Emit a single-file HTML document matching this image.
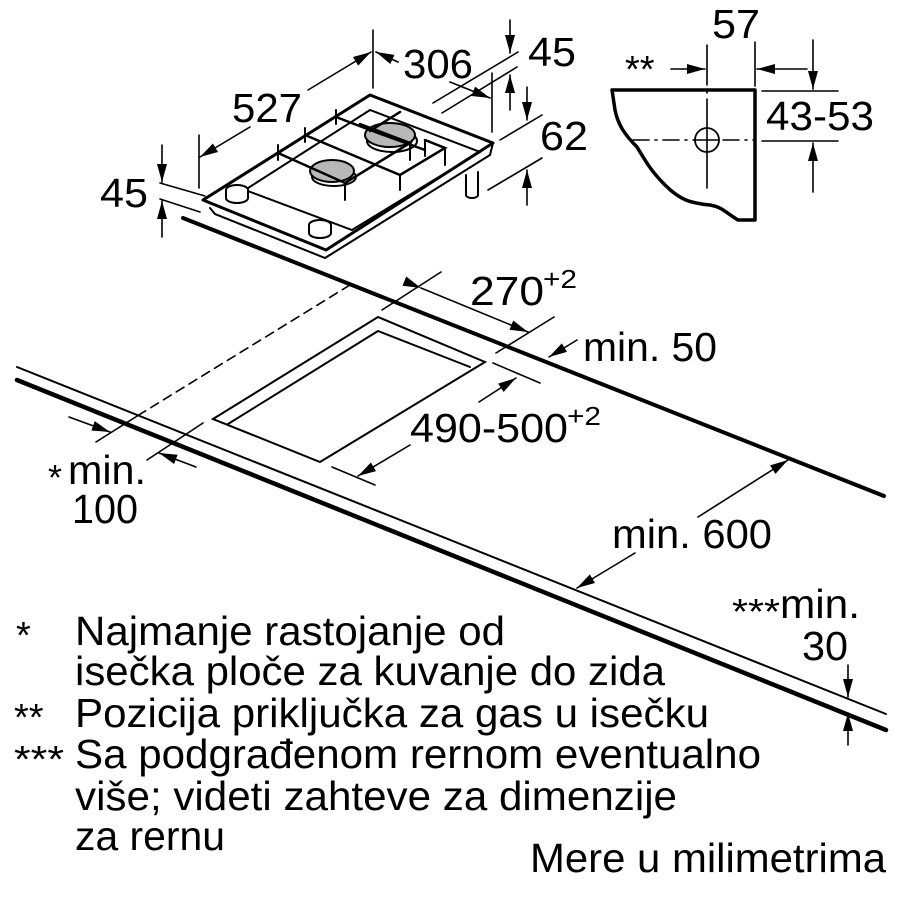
<!DOCTYPE html>
<html><head><meta charset="utf-8"><style>
html,body{margin:0;padding:0;background:#fff}
svg{display:block}
text{font-family:"Liberation Sans",Arial,sans-serif;fill:#000}
</style></head><body>
<svg width="900" height="900" viewBox="0 0 900 900" xmlns="http://www.w3.org/2000/svg">
<defs>
<marker id="a" viewBox="0 0 10 10" refX="10" refY="5" markerWidth="10" markerHeight="10" markerUnits="userSpaceOnUse" orient="auto" style="overflow:visible">
<path d="M-8,0 L10,5 L-8,10 z" fill="#000"/>
</marker>
</defs>
<g stroke="#000" fill="none" stroke-linecap="round">
<line x1="183" y1="218" x2="884" y2="496" stroke-width="4"/>
<line x1="17" y1="367" x2="886" y2="714" stroke-width="2"/>
<line x1="17" y1="380" x2="886" y2="730" stroke-width="4.5"/>
<line x1="350" y1="285" x2="142" y2="413" stroke-width="1.6" stroke-dasharray="9,6"/>
<line x1="142" y1="413" x2="96" y2="442" stroke-width="1.6"/>
<line x1="203" y1="423" x2="147" y2="460" stroke-width="1.6"/>
<path d="M213,419 L378,317 L485,362 L320,462 Z" stroke-width="2"/>
<path d="M228,424 L378,331 L470,367" stroke-width="2"/>
<line x1="441" y1="272" x2="382" y2="310" stroke-width="1.6"/>
<line x1="554" y1="317" x2="496" y2="353" stroke-width="1.6"/>
<line x1="421" y1="288" x2="528" y2="332" stroke-width="1.6" marker-start="url(#a)" marker-end="url(#a)"/>
<line x1="577" y1="340" x2="549" y2="357" stroke-width="1.6" marker-end="url(#a)"/>
<line x1="493" y1="363" x2="540" y2="383" stroke-width="1.6"/>
<line x1="332" y1="467" x2="375" y2="485" stroke-width="1.6"/>
<line x1="479" y1="402" x2="516" y2="378" stroke-width="1.6" marker-end="url(#a)"/>
<line x1="410" y1="445" x2="358" y2="476" stroke-width="1.6" marker-end="url(#a)"/>
<line x1="69" y1="417" x2="110" y2="432" stroke-width="1.6" marker-end="url(#a)"/>
<line x1="196" y1="467" x2="159" y2="453" stroke-width="1.6" marker-end="url(#a)"/>
<line x1="698" y1="517" x2="788" y2="460" stroke-width="1.6" marker-end="url(#a)"/>
<line x1="635" y1="553" x2="577" y2="588" stroke-width="1.6" marker-end="url(#a)"/>
<line x1="848" y1="665" x2="848" y2="697" stroke-width="1.6" marker-end="url(#a)"/>
<line x1="848" y1="745" x2="848" y2="713" stroke-width="1.6" marker-end="url(#a)"/>

<path d="M203,200 L370,95 L493,143 L326,250 Z" stroke-width="3" stroke-linejoin="round" fill="#fff"/>
<path d="M210,208 L215,214 L325,258 L490,155 L493,143" stroke-width="2"/>
<path d="M245,190 L370,110 L480,152 L352,230 Z" stroke-width="2"/>
<ellipse cx="392" cy="141" rx="25" ry="11" stroke-width="2"/>
<ellipse cx="390" cy="135" rx="25" ry="12" fill="#b8b8b8" stroke-width="2"/>
<ellipse cx="334" cy="177" rx="22" ry="9" stroke-width="2"/>
<ellipse cx="332" cy="171" rx="22" ry="11" fill="#b8b8b8" stroke-width="2"/>
<path d="M278,153 L345,183 L410,143 L360,124 M305,135 L400,175 L445,148 L425,140 M336,117 L370,130 L425,150 M400,112 L370,131" stroke-width="2.5"/>
<path d="M278,145 L278,160 M305,128 L305,142 M336,110 L336,124 M345,183 L345,200 M400,175 L400,190 M445,148 L445,165 M425,140 L425,156 M410,143 L410,160" stroke-width="2"/>
<ellipse cx="237" cy="190" rx="11" ry="5" stroke-width="2" fill="#fff"/>
<path d="M226,190 L226,198 A11,5 0 0 0 248,198 L248,190" stroke-width="2" fill="#fff"/>
<ellipse cx="320" cy="225" rx="11" ry="5" stroke-width="2" fill="#fff"/>
<path d="M309,225 L309,233 A11,5 0 0 0 331,233 L331,225" stroke-width="2" fill="#fff"/>
<path d="M466,175 L466,195 A6,3 0 0 0 478,195 L478,172" stroke-width="2" fill="#fff"/>
<line x1="160" y1="183" x2="205" y2="196" stroke-width="1.6"/>
<line x1="160" y1="199" x2="200" y2="212" stroke-width="1.6"/>
<line x1="162" y1="145" x2="162" y2="182" stroke-width="1.6" marker-end="url(#a)"/>
<line x1="162" y1="237" x2="162" y2="201" stroke-width="1.6" marker-end="url(#a)"/>
<line x1="199" y1="135" x2="199" y2="188" stroke-width="1.6"/>
<line x1="373" y1="30" x2="373" y2="88" stroke-width="1.6"/>
<line x1="250" y1="127" x2="200" y2="157" stroke-width="1.6" marker-end="url(#a)"/>
<line x1="308" y1="90" x2="371" y2="52" stroke-width="1.6" marker-end="url(#a)"/>
<line x1="398" y1="62" x2="376" y2="52" stroke-width="1.6" marker-end="url(#a)"/>
<line x1="510" y1="20" x2="510" y2="53" stroke-width="1.6" marker-end="url(#a)"/>
<line x1="433" y1="103" x2="518" y2="52" stroke-width="1.6"/>
<line x1="442" y1="113" x2="517" y2="67" stroke-width="1.6"/>
<line x1="492" y1="73" x2="492" y2="132" stroke-width="1.6"/>
<line x1="450" y1="82" x2="490" y2="98" stroke-width="1.6" marker-end="url(#a)"/>
<line x1="510" y1="110" x2="510" y2="75" stroke-width="1.6" marker-end="url(#a)"/>
<line x1="527" y1="87" x2="527" y2="120" stroke-width="1.6" marker-end="url(#a)"/>
<line x1="500" y1="140" x2="542" y2="115" stroke-width="1.6"/>
<line x1="488" y1="190" x2="542" y2="158" stroke-width="1.6"/>
<line x1="527" y1="205" x2="527" y2="170" stroke-width="1.6" marker-end="url(#a)"/>

<path d="M612,90 L755,90 L755,220 L738,220 C725,212 722,207 710,205 C690,203 680,200 665,185 C650,170 645,160 637,147 C625,135 618,125 615,110 Z" stroke-width="3.5" stroke-linejoin="round" fill="#fff"/>
<line x1="707" y1="45" x2="707" y2="188" stroke-width="1.6" stroke-dasharray="40,6,2,6"/>
<line x1="633" y1="140" x2="755" y2="140" stroke-width="1.6" stroke-dasharray="16,6,2,6"/>
<circle cx="707" cy="140" r="12" stroke-width="1.8" fill="#fff"/>
<line x1="695" y1="140" x2="719" y2="140" stroke-width="1.6"/>
<line x1="707" y1="128" x2="707" y2="152" stroke-width="1.6"/>
<line x1="755" y1="42" x2="755" y2="86" stroke-width="1.6"/>
<line x1="671" y1="69" x2="705" y2="69" stroke-width="1.6" marker-end="url(#a)"/>
<line x1="807" y1="69" x2="757" y2="69" stroke-width="1.6" marker-end="url(#a)"/>
<line x1="762" y1="91" x2="838" y2="91" stroke-width="1.6"/>
<line x1="762" y1="141" x2="838" y2="141" stroke-width="1.6"/>
<line x1="813" y1="40" x2="813" y2="89" stroke-width="1.6" marker-end="url(#a)"/>
<line x1="813" y1="192" x2="813" y2="143" stroke-width="1.6" marker-end="url(#a)"/>
</g>

<g font-size="41">
<text x="232" y="122" textLength="70" lengthAdjust="spacingAndGlyphs">527</text>
<text x="403" y="78" textLength="70" lengthAdjust="spacingAndGlyphs">306</text>
<text x="528" y="66" textLength="48" lengthAdjust="spacingAndGlyphs">45</text>
<text x="540" y="150" textLength="48" lengthAdjust="spacingAndGlyphs">62</text>
<text x="100" y="207" textLength="48" lengthAdjust="spacingAndGlyphs">45</text>
<text x="712" y="38" textLength="48" lengthAdjust="spacingAndGlyphs">57</text>
<text x="766" y="130" textLength="108" lengthAdjust="spacingAndGlyphs">43-53</text>
<text x="625" y="82" font-size="38">**</text>
<text x="470" y="305" textLength="74" lengthAdjust="spacingAndGlyphs">270</text>
<text x="543" y="288" font-size="26" textLength="34" lengthAdjust="spacingAndGlyphs">+2</text>
<text x="583" y="361" textLength="134" lengthAdjust="spacingAndGlyphs">min. 50</text>
<text x="410" y="442" textLength="158" lengthAdjust="spacingAndGlyphs">490-500</text>
<text x="567" y="425" font-size="26" textLength="34" lengthAdjust="spacingAndGlyphs">+2</text>
<text x="48" y="490" font-size="36">*</text>
<text x="68" y="484" textLength="78" lengthAdjust="spacingAndGlyphs">min.</text>
<text x="72" y="523" textLength="66" lengthAdjust="spacingAndGlyphs">100</text>
<text x="612" y="548" textLength="160" lengthAdjust="spacingAndGlyphs">min. 600</text>
<text x="732" y="624" font-size="36" textLength="48" lengthAdjust="spacingAndGlyphs">***</text>
<text x="780" y="618" textLength="80" lengthAdjust="spacingAndGlyphs">min.</text>
<text x="802" y="660" textLength="46" lengthAdjust="spacingAndGlyphs">30</text>

<text x="16" y="648" font-size="38">*</text>
<text x="75" y="645" textLength="430" lengthAdjust="spacingAndGlyphs">Najmanje rastojanje od</text>
<text x="75" y="685" textLength="590" lengthAdjust="spacingAndGlyphs">isečka ploče za kuvanje do zida</text>
<text x="14" y="730" font-size="38">**</text>
<text x="75" y="727" textLength="634" lengthAdjust="spacingAndGlyphs">Pozicija priključka za gas u isečku</text>
<text x="14" y="772" font-size="38" textLength="50" lengthAdjust="spacingAndGlyphs">***</text>
<text x="75" y="768" textLength="686" lengthAdjust="spacingAndGlyphs">Sa podgrađenom rernom eventualno</text>
<text x="75" y="810" textLength="602" lengthAdjust="spacingAndGlyphs">više; videti zahteve za dimenzije</text>
<text x="75" y="850" textLength="150" lengthAdjust="spacingAndGlyphs">za rernu</text>
<text x="530" y="872" textLength="356" lengthAdjust="spacingAndGlyphs">Mere u milimetrima</text>
</g>
</svg>
</body></html>
